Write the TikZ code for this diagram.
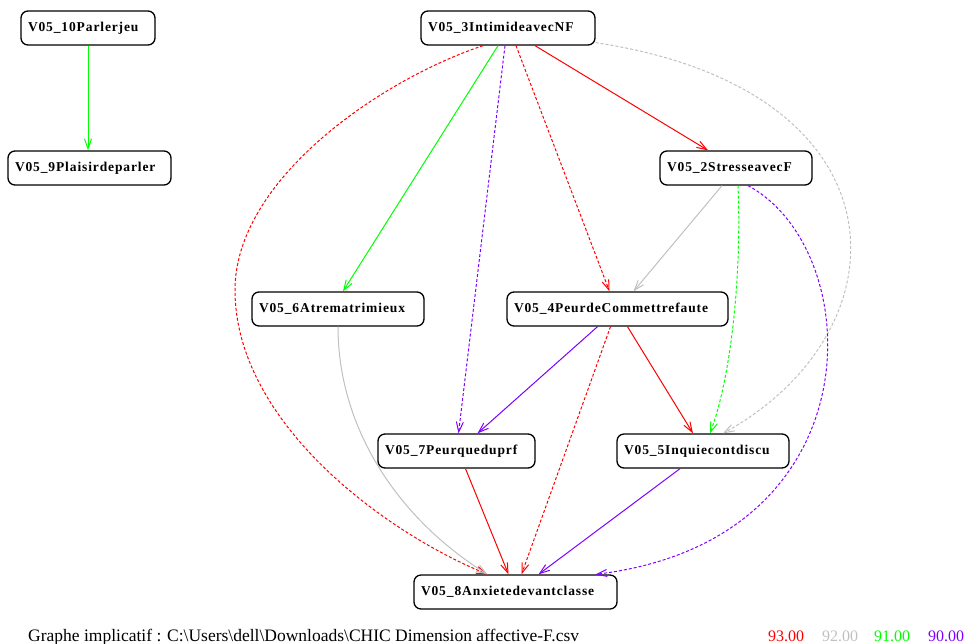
\documentclass[tikz,border=0pt]{standalone}
\usepackage{fontspec}
\setmainfont{Liberation Serif}
\newfontfamily\nodefont[LetterSpace=6.5]{Liberation Serif}
\usetikzlibrary{arrows.meta}
\definecolor{cred}{HTML}{FF0000}
\definecolor{cgray}{HTML}{C0C0C0}
\definecolor{cgreen}{HTML}{00FF00}
\definecolor{cpurple}{HTML}{8000FF}
\tikzset{
  nd/.style={draw=black, line width=1.3pt, rounded corners=7pt, fill=white,
    minimum height=34pt, inner xsep=7pt, inner ysep=0pt, align=left,
    text width=#1, font=\nodefont\bfseries\fontsize{13.5}{15}\selectfont},
  edge/.style={line width=1pt, -{Straight Barb[length=10pt,width=7pt]}},
  dsh/.style={dash pattern=on 3pt off 2pt},
  caption/.style={anchor=base west, inner sep=0pt, font=\fontsize{17.5}{19}\selectfont},
  legend/.style={anchor=base west, inner sep=0pt, font=\fontsize{16}{18}\selectfont}
}
\begin{document}
\begin{tikzpicture}[x=1pt,y=-1pt]
\useasboundingbox (0,0) rectangle (965,643);
% nodes
\node[nd=120pt] (n10) at (88,28) {V05\_10Parlerjeu};
\node[nd=149pt] (n9) at (89.5,168) {V05\_9Plaisirdeparler};
\node[nd=160pt] (n3) at (508,28) {V05\_3IntimideavecNF};
\node[nd=138pt] (n2) at (736,168) {V05\_2StresseavecF};
\node[nd=158pt] (n6) at (338,309) {V05\_6Atrematrimieux};
\node[nd=207pt] (n4) at (617.5,309) {V05\_4PeurdeCommettrefaute};
\node[nd=143pt] (n7) at (456.5,451) {V05\_7Peurqueduprf};
\node[nd=158pt] (n5) at (703,451) {V05\_5Inquiecontdiscu};
\node[nd=189pt] (n8) at (515.5,592) {V05\_8Anxietedevantclasse};
% edges
\draw[edge, cgreen] (n10.south) -- (n10.south |- n9.north);
\draw[edge, cred] ([xshift=27pt]n3.south) -- ([xshift=-28pt]n2.north);
\draw[edge, cgreen] ([xshift=-10pt]n3.south) -- ([xshift=5pt]n6.north);
\draw[edge, cpurple, dsh] ([xshift=-3pt]n3.south) -- ([xshift=2pt]n7.north);
\draw[edge, cred, dsh] ([xshift=8pt]n3.south) -- ([xshift=-8pt]n4.north);
\draw[edge, cred, dsh] ([xshift=-25pt]n3.south) .. controls (380,80) and (235,180) .. (235,290) .. controls (235,420) and (380,530) .. ([xshift=-28pt]n8.north);
\draw[edge, cgray, dsh] ([yshift=3pt]n3.south east) .. controls (910,90) and (910,330) .. ([xshift=20pt]n5.north);
\draw[edge, cgray] ([xshift=-14pt]n2.south) -- ([xshift=16pt]n4.north);
\draw[edge, cgreen, dsh] ([xshift=2pt]n2.south) .. controls (742,280) and (730,380) .. ([xshift=7pt]n5.north);
\draw[edge, cpurple, dsh] ([xshift=12pt]n2.south) .. controls (868,250) and (878,540) .. ([xshift=80pt]n8.north);
\draw[edge, cpurple] ([xshift=-20pt]n4.south) -- ([xshift=21pt]n7.north);
\draw[edge, cred] ([xshift=10pt]n4.south) -- ([xshift=-10pt]n5.north);
\draw[edge, cred, dsh] ([xshift=-7pt]n4.south) -- ([xshift=6pt]n8.north);
\draw[edge, cgray] (n6.south) .. controls (338,430) and (400,520) .. ([xshift=-28pt]n8.north);
\draw[edge, cred] ([xshift=9pt]n7.south) -- ([xshift=-7pt]n8.north);
\draw[edge, cpurple] ([xshift=-23pt]n5.south) -- ([xshift=23pt]n8.north);
% footer
\node[caption] (cap) at (28,641) {Graphe implicatif : C:\textbackslash Users\textbackslash dell\textbackslash Downloads\textbackslash CHIC Dimension affective-F.csv};
\node[legend, text=cred] (l93) at (768,641) {93.00};
\node[legend, text=cgray] (l92) at (822,641) {92.00};
\node[legend, text=cgreen] (l91) at (874,641) {91.00};
\node[legend, text=cpurple] (l90) at (928,641) {90.00};
\end{tikzpicture}
\end{document}
